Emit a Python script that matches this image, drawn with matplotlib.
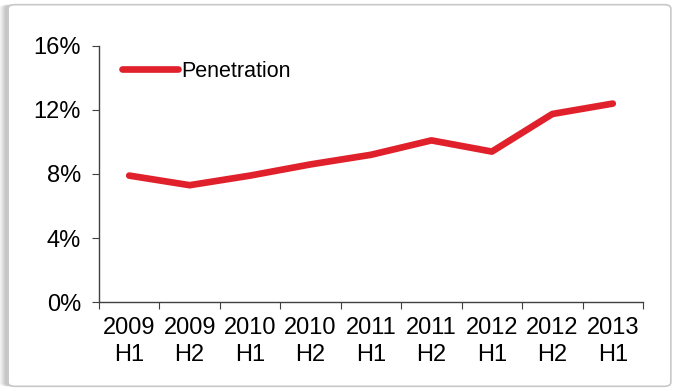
import matplotlib.pyplot as plt
from matplotlib.patches import FancyBboxPatch
from matplotlib.ticker import FixedLocator, FuncFormatter

plt.rcParams['font.family'] = ['Liberation Sans', 'DejaVu Sans']

# Half-year penetration data
periods = ["2009\nH1", "2009\nH2", "2010\nH1", "2010\nH2", "2011\nH1",
           "2011\nH2", "2012\nH1", "2012\nH2", "2013\nH1"]
penetration = [7.9, 7.3, 7.9, 8.6, 9.2, 10.1, 9.4, 11.75, 12.4]

fig = plt.figure(figsize=(6.79, 3.91), dpi=100)

# Soft shadow + card frame around the chart
for i, a in enumerate([0.05, 0.05, 0.06, 0.07]):
    off = 0.004 * (4 - i)
    fig.patches.append(FancyBboxPatch((0.009 - off * 0.6, 0.012), 0.976, 0.976,
                                      boxstyle="round,pad=0,rounding_size=0.01",
                                      transform=fig.transFigure, facecolor="black",
                                      edgecolor="none", alpha=a, zorder=-11))
frame = FancyBboxPatch((0.012, 0.012), 0.976, 0.976,
                       boxstyle="round,pad=0,rounding_size=0.01",
                       transform=fig.transFigure, facecolor="white",
                       edgecolor="#c8c8c8", linewidth=1.2, zorder=-10)
fig.patches.append(frame)

ax = fig.add_axes([0.1458, 0.2276, 0.8012, 0.6548])
ax.patch.set_alpha(0)

x = [i + 0.5 for i in range(len(periods))]
ax.plot(x, penetration, color="#e0202b", linewidth=4.8,
        solid_capstyle="round", solid_joinstyle="round", label="Penetration")

ax.set_xlim(0, len(periods))
ax.set_ylim(0, 16)
ax.set_yticks([0, 4, 8, 12, 16])
ax.yaxis.set_major_formatter(FuncFormatter(lambda v, p: f"{v:.0f}%"))

# Boundary ticks between categories, labels centred on each category
ax.xaxis.set_major_locator(FixedLocator(range(len(periods) + 1)))
ax.xaxis.set_major_formatter(FuncFormatter(lambda v, p: ""))
ax.set_xticks(x, periods, minor=True)
ax.tick_params(axis="x", which="minor", length=0, pad=11, labelsize=17)
ax.tick_params(axis="x", which="major", length=5, direction="out", color="#404040")
ax.tick_params(axis="y", length=5, direction="out", color="#404040", labelsize=17, pad=8)
for lbl in ax.get_xticklabels(minor=True):
    lbl.set_linespacing(1.25)

for side in ("top", "right"):
    ax.spines[side].set_visible(False)
for side in ("left", "bottom"):
    ax.spines[side].set_color("#404040")
    ax.spines[side].set_linewidth(1.0)

ax.legend(loc="upper left", bbox_to_anchor=(0.042, 0.942), frameon=False,
          borderpad=0, borderaxespad=0, handlelength=2.6, handletextpad=0.14,
          fontsize=15.5)

fig.savefig("out.png", dpi=100)
